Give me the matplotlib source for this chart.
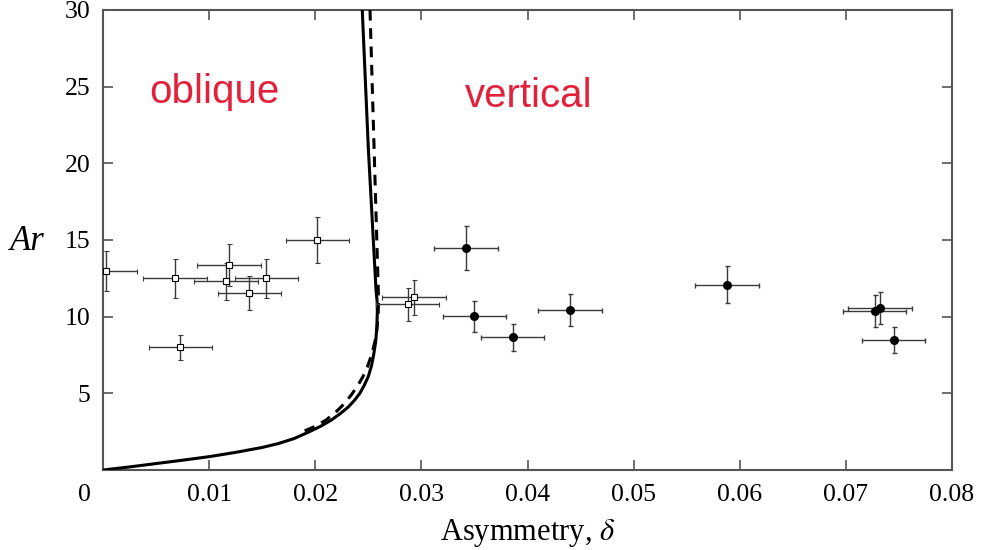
import matplotlib
matplotlib.use("Agg")
import matplotlib.pyplot as plt
import matplotlib.transforms as mtransforms

plt.rcParams["mathtext.fontset"] = "stix"

# Open squares (oblique experiments)
sq_x = [0.00025, 0.0068, 0.0073, 0.0119, 0.0116, 0.0138, 0.0154, 0.0202, 0.0287, 0.0293]
sq_y = [13.0, 12.5, 8.0, 13.37, 12.3, 11.55, 12.5, 15.0, 10.8, 11.28]
sq_xerr = [0.003] * 10
sq_yerr = [1.3, 1.25, 0.8, 1.34, 1.2, 1.13, 1.25, 1.48, 1.09, 1.14]

# Filled circles (vertical experiments)
ci_x = [0.0342, 0.0350, 0.0386, 0.0440, 0.0588, 0.0727, 0.0732, 0.0745]
ci_y = [14.48, 10.02, 8.65, 10.42, 12.09, 10.37, 10.59, 8.5]
ci_xerr = [0.003] * 8
ci_yerr = [1.42, 1.02, 0.86, 1.06, 1.2, 1.05, 1.05, 0.85]

# Solid boundary curve
solid_x = [0.0, 0.0025, 0.005, 0.0075, 0.01, 0.0125, 0.015, 0.0165, 0.018, 0.0193,
           0.0205, 0.0215, 0.0224, 0.0231, 0.0237, 0.0242, 0.0246, 0.0250, 0.0253,
           0.0255, 0.0257, 0.02580, 0.02585, 0.02583, 0.02573, 0.0250, 0.02443]
solid_y = [0.0, 0.2, 0.42, 0.64, 0.87, 1.15, 1.47, 1.72, 2.05, 2.45,
           2.85, 3.25, 3.7, 4.1, 4.55, 5.0, 5.5, 6.1, 6.8,
           7.5, 8.4, 9.3, 10.3, 11.0, 11.7, 21.0, 30.0]

# Dashed boundary curve
dash_x = [0.0190, 0.0200, 0.0210, 0.0219, 0.0227, 0.0234, 0.0240, 0.0245, 0.0249,
          0.0253, 0.0256, 0.0258, 0.02592, 0.02596, 0.02594, 0.02516]
dash_y = [2.55, 2.85, 3.25, 3.75, 4.3, 4.9, 5.5, 6.1, 6.7,
          7.5, 8.3, 9.1, 10.0, 10.9, 11.7, 30.0]

xticks = [0, 0.01, 0.02, 0.03, 0.04, 0.05, 0.06, 0.07, 0.08]
xticklabels = ["0", "0.01", "0.02", "0.03", "0.04", "0.05", "0.06", "0.07", "0.08"]
yticks = [5, 10, 15, 20, 25, 30]
yticklabels = ["5", "10", "15", "20", "25", "30"]

fig = plt.figure(figsize=(9.82, 5.5), dpi=100)
ax = fig.add_axes([103/982, 1 - 470/550, (952-103)/982, (470-10)/550])

serif = "Liberation Serif"
red = "#E3213B"
ecol = "#3a3a3a"

ax.plot(solid_x, solid_y, color="black", lw=2.2, solid_joinstyle="round", zorder=3)
ax.plot(dash_x, dash_y, color="black", lw=2.2, dashes=(3.5, 2.5), zorder=3)

ax.errorbar(sq_x, sq_y, xerr=sq_xerr, yerr=sq_yerr, fmt="s", ms=4.5, mfc="white",
            mec="black", mew=0.8, ecolor=ecol, elinewidth=1.0, capsize=1.8, capthick=1.0, zorder=4)
ax.errorbar(ci_x, ci_y, xerr=ci_xerr, yerr=ci_yerr, fmt="o", ms=5.5, mfc="black",
            mec="black", ecolor=ecol, elinewidth=1.0, capsize=1.8, capthick=1.0, zorder=4)

ax.set_xlim(0, 0.08)
ax.set_ylim(0, 30)
ax.set_xticks(xticks)
ax.set_xticklabels(xticklabels, fontfamily=serif, fontsize=18.5)
ax.set_yticks(yticks)
ax.set_yticklabels(yticklabels, fontfamily=serif, fontsize=18.5)
ax.tick_params(direction="in", length=7, width=1.2, color="#555555",
               top=True, right=True)
ax.tick_params(axis="x", pad=10)
ax.tick_params(axis="y", pad=9)

# shift the corner "0" label left
lbl0 = ax.get_xticklabels()[0]
lbl0.set_transform(lbl0.get_transform() + mtransforms.ScaledTranslation(-19/100, 0, fig.dpi_scale_trans))

for s in ax.spines.values():
    s.set_color("#555555")
    s.set_linewidth(1.5)

ax.set_xlabel(r"Asymmetry, $\delta$", fontfamily=serif, fontsize=22, labelpad=8)
fig.text(27/982, 1 - 242/550, "Ar", fontfamily=serif, fontstyle="italic", fontsize=25,
         ha="center", va="center")

ax.text(0.131, 0.822, "oblique", transform=ax.transAxes, color=red,
        fontfamily="Liberation Sans", fontsize=29, ha="center", va="center")
ax.text(0.501, 0.814, "vertical", transform=ax.transAxes, color=red,
        fontfamily="Liberation Sans", fontsize=29, ha="center", va="center")

fig.savefig("out.png", dpi=100)
